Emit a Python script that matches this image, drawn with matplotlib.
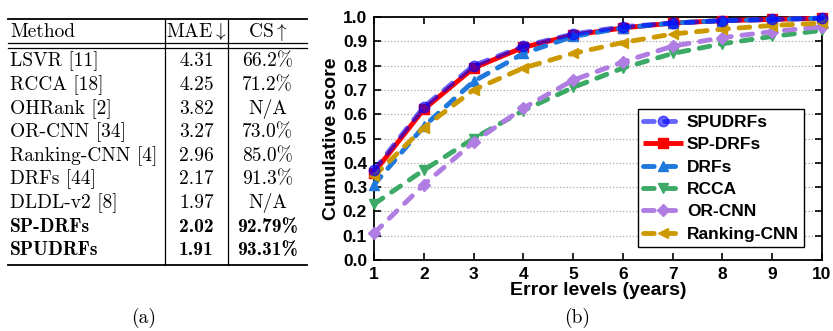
import numpy as np
import matplotlib
matplotlib.use('Agg')
from matplotlib import pyplot as plt

plt.rcParams['mathtext.fontset'] = 'cm'

# table (a)
methods = ['LSVR [11]', 'RCCA [18]', 'OHRank [2]', 'OR-CNN [34]',
           'Ranking-CNN [4]', 'DRFs [44]', 'DLDL-v2 [8]', 'SP-DRFs', 'SPUDRFs']
mae = ['4.31', '4.25', '3.82', '3.27', '2.96', '2.17', '1.97', '2.02', '1.91']
cs = ['66.2%', '71.2%', 'N/A', '73.0%', '85.0%', '91.3%', 'N/A',
      '92.79%', '93.31%']
bold_rows = ['SP-DRFs', 'SPUDRFs']

# curves (b)
error_levels = [1, 2, 3, 4, 5, 6, 7, 8, 9, 10]
spudrfs = [0.37, 0.63, 0.80, 0.88, 0.93, 0.96, 0.975, 0.985, 0.99, 0.995]
sp_drfs = [0.36, 0.62, 0.79, 0.875, 0.925, 0.955, 0.975, 0.985, 0.99, 0.995]
drfs = [0.31, 0.55, 0.735, 0.85, 0.92, 0.955, 0.975, 0.985, 0.99, 0.995]
rcca = [0.23, 0.37, 0.50, 0.615, 0.71, 0.79, 0.85, 0.89, 0.92, 0.945]
or_cnn = [0.11, 0.31, 0.485, 0.625, 0.74, 0.815, 0.88, 0.915, 0.94, 0.96]
ranking_cnn = [0.345, 0.545, 0.70, 0.79, 0.85, 0.895, 0.93, 0.95, 0.965,
               0.975]

W, H = 833, 331
fig = plt.figure(figsize=(W / 100, H / 100), dpi=100)

# --- table drawn in pixel coordinates
tab = fig.add_axes([0, 0, 1, 1])
tab.set_xlim(0, W)
tab.set_ylim(H, 0)
tab.axis('off')

x0, x1, x2, x3 = 8, 165, 228, 307
y_top, y_bot = 19, 265
row0, row_step = 61.5, 23.6
fs = 14
tab.plot([x0, x3], [y_top, y_top], color='k', lw=1.3)
tab.plot([x0, x3], [43, 43], color='k', lw=0.9)
tab.plot([x0, x3], [48, 48], color='k', lw=0.9)
tab.plot([x0, x3], [y_bot, y_bot], color='k', lw=1.3)
for xv in (x1, x2):
    tab.plot([xv, xv], [y_top, y_bot], color='k', lw=0.9)

tab.text(x0 + 2, 32, 'Method', fontfamily='cmr10', fontsize=fs,
         va='center', ha='left')
tab.text((x1 + x2) / 2, 32, r'MAE$\downarrow$', fontfamily='cmr10',
         fontsize=fs, va='center', ha='center')
tab.text((x2 + x3) / 2, 32, r'CS$\uparrow$', fontfamily='cmr10',
         fontsize=fs, va='center', ha='center')
for i, (m, a, c) in enumerate(zip(methods, mae, cs)):
    y = row0 + i * row_step
    fam = 'cmb10' if m in bold_rows else 'cmr10'
    tab.text(x0 + 2, y, m, fontfamily=fam, fontsize=fs, va='center',
             ha='left')
    tab.text((x1 + x2) / 2, y, a, fontfamily=fam, fontsize=fs, va='center',
             ha='center')
    tab.text((x2 + x3) / 2, y, c, fontfamily=fam, fontsize=fs,
             va='center', ha='center')
tab.text(144, 318, '(a)', fontfamily='cmr10', fontsize=fs, va='center',
         ha='center')
tab.text(577, 318, '(b)', fontfamily='cmr10', fontsize=fs, va='center',
         ha='center')

# --- cumulative score chart
ax = fig.add_axes([374 / W, 1 - 260 / H, (822 - 374) / W, (260 - 17) / H])
lw = 3.5
dash = (2.2, 2.2)
series = [
    ('SPUDRFs', spudrfs, '#0000ff', 'o', 0.6, True),
    ('SP-DRFs', sp_drfs, '#ff0000', 's', 1.0, False),
    ('DRFs', drfs, '#1f78dc', '^', 1.0, True),
    ('RCCA', rcca, '#3caa66', 'v', 1.0, True),
    ('OR-CNN', or_cnn, '#b07de2', 'D', 1.0, True),
    ('Ranking-CNN', ranking_cnn, '#cc9900', '<', 1.0, True),
]
handles = {}
for name, vals, col, mk, alpha, dashed in series:
    ln, = ax.plot(error_levels, vals, color=col, marker=mk, lw=lw,
                  markersize=7.5 if mk != 'D' else 6.5, alpha=alpha,
                  dash_capstyle='round', solid_capstyle='butt',
                  label=name, zorder=3, clip_on=False)
    if dashed:
        ln.set_dashes(dash)
    handles[name] = ln
# draw SPUDRFs on top of the red curve
handles['SPUDRFs'].set_zorder(5)

ax.set_xlim(1, 10)
ax.set_ylim(0, 1)
ax.set_xticks(error_levels)
ax.set_yticks(np.arange(0, 1.01, 0.1))
ax.yaxis.set_major_formatter(matplotlib.ticker.FormatStrFormatter('%.1f'))
ax.tick_params(direction='in', top=True, right=True, length=5, width=1.2,
               labelsize=12.5, pad=5)
for lab in ax.get_xticklabels() + ax.get_yticklabels():
    lab.set_fontfamily('Liberation Sans')
    lab.set_fontweight('bold')
for sp in ax.spines.values():
    sp.set_linewidth(1.3)
ax.yaxis.grid(True, linestyle=':', color='#aaaaaa', lw=0.9)
ax.set_axisbelow(True)
ax.set_xlabel('Error levels (years)', fontfamily='Liberation Sans',
              fontweight='bold', fontsize=14, labelpad=0)
ax.set_ylabel('Cumulative score', fontfamily='Liberation Sans',
              fontweight='bold', fontsize=14, labelpad=2)

leg = ax.legend(loc='lower right', bbox_to_anchor=(0.96, 0.053),
                prop={'family': 'Liberation Sans', 'weight': 'bold',
                      'size': 12.5},
                handlelength=2.3, handletextpad=0.2, borderpad=0.3,
                labelspacing=0.42, borderaxespad=0, fancybox=False,
                framealpha=1, edgecolor='k')
leg.get_frame().set_linewidth(1.0)

fig.savefig('out.png', dpi=100)
